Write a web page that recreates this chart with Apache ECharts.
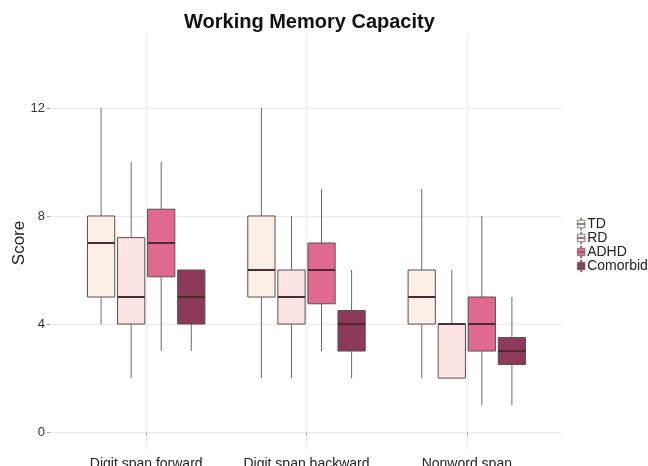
<!DOCTYPE html>
<html>
<head>
<meta charset="utf-8">
<script src="https://cdn.jsdelivr.net/npm/echarts@6/dist/echarts.min.js"></script>
<style>
  html, body { margin: 0; padding: 0; background: #fff; }
  #chart { width: 648px; height: 466px; }
</style>
</head>
<body>
<div id="chart"></div>
<script>
// categories on the x axis
let categories = ["Digit span forward", "Digit span backward", "Nonword span"];
let groups = ["TD", "RD", "ADHD", "Comorbid"];
let yTicks = [0, 4, 8, 12];

// each row: [min, Q1, median, Q3, max] per category
let tdBoxes = [[4, 5, 7, 8, 12], [2, 5, 6, 8, 12], [2, 4, 5, 6, 9]];
let rdBoxes = [[2, 4, 5, 7.2, 10], [2, 4, 5, 6, 8], [2, 2, 4, 4, 6]];
let adhdBoxes = [[3, 5.75, 7, 8.25, 10], [3, 4.75, 6, 7, 9], [1, 3, 4, 5, 8]];
let comorbidBoxes = [[3, 4, 5, 6, 6], [2, 3, 4, 4.5, 6], [1, 2.5, 3, 3.5, 5]];

let allBoxes = [tdBoxes, rdBoxes, adhdBoxes, comorbidBoxes];
let fills = ["#fcefe6", "#fde3e1", "#e0698f", "#8d3a5a"];

let FONT = "Liberation Sans, Arial, Helvetica, sans-serif";
let groupStep = 0.1875; //组间距(以类别为单位)
let boxW = 0.17; //箱宽
//图例里的小箱线图标
let legendIcon = "path://M4.4,0 L5.6,0 L5.6,3 L10,3 L10,13 L5.6,13 L5.6,16 L4.4,16 L4.4,13 L0,13 L0,3 L4.4,3 Z M0,7.4 L10,7.4 L10,8.6 L0,8.6 Z";

function renderBox(params, api) {
    let g = params.seriesIndex;
    let c = api.value(0);
    let unit = api.size([1, 0])[0];
    let x = api.coord([c, 0])[0] + (g - 1.5) * groupStep * unit;
    let hw = boxW * unit / 2;
    let yMin = api.coord([c, api.value(1)])[1];
    let yQ1 = api.coord([c, api.value(2)])[1];
    let yMed = api.coord([c, api.value(3)])[1];
    let yQ3 = api.coord([c, api.value(4)])[1];
    let yMax = api.coord([c, api.value(5)])[1];
    return {
        type: "group",
        children: [
            { type: "line", shape: { x1: x, y1: yMax, x2: x, y2: yQ3 }, style: { stroke: "#6b6b6b", lineWidth: 1 } },
            { type: "line", shape: { x1: x, y1: yQ1, x2: x, y2: yMin }, style: { stroke: "#6b6b6b", lineWidth: 1 } },
            { type: "rect", shape: { x: x - hw, y: yQ3, width: hw * 2, height: yQ1 - yQ3 }, style: { fill: fills[g], stroke: "#5a5050", lineWidth: 1 } },
            { type: "line", shape: { x1: x - hw, y1: yMed, x2: x + hw, y2: yMed }, style: { stroke: "#4a2c30", lineWidth: 2 } }
        ]
    };
}

let series = [];
for (let g = 0; g < groups.length; g++) {
    let data = [];
    for (let i = 0; i < categories.length; i++) {
        data.push([i + 1].concat(allBoxes[g][i]));
    }
    series.push({
        name: groups[g],
        type: "custom",
        renderItem: renderBox,
        itemStyle: { color: fills[g] },
        encode: { x: 0, y: [1, 2, 3, 4, 5] },
        data: data
    });
}

let myChart = echarts.init(document.getElementById("chart"));
let option = {
    backgroundColor: "#ffffff",
    animation: false,
    title: {
        text: "Working Memory Capacity",
        left: 179,
        top: 7,
        textStyle: { fontFamily: FONT, fontSize: 20, fontWeight: "bold", color: "#111" }
    },
    legend: {
        data: groups,
        orient: "vertical",
        left: 577,
        top: 217,
        padding: 0,
        itemGap: 0,
        itemWidth: 10,
        itemHeight: 12,
        icon: legendIcon,
        itemStyle: { borderColor: "#666", borderWidth: 0.8 },
        textStyle: { fontFamily: FONT, fontSize: 14, lineHeight: 13, color: "#222", padding: [0, 0, 0, -4] }
    },
    grid: { left: 50, right: 85, top: 35, bottom: 15, outerBoundsMode: "none" },
    xAxis: {
        type: "value",
        min: 0.4,
        max: 3.6,
        axisLine: { show: false },
        axisTick: { show: true, length: 4, customValues: [1, 2, 3], lineStyle: { color: "#aaa" } },
        axisLabel: {
            customValues: [1, 2, 3],
            formatter: function (v) { return categories[Math.round(v) - 1]; },
            fontFamily: FONT, fontSize: 14, color: "#222", margin: 6
        },
        splitLine: { show: true, lineStyle: { color: "#ebebeb", width: 1 } }
    },
    yAxis: {
        type: "value",
        min: -0.7,
        max: 14.7,
        name: "Score",
        nameLocation: "middle",
        nameGap: 22,
        nameMoveOverlap: false,
        nameTextStyle: { fontFamily: FONT, fontSize: 17, color: "#222" },
        axisLine: { show: false },
        axisTick: { show: true, length: 3, customValues: yTicks, lineStyle: { color: "#aaa" } },
        axisLabel: { customValues: yTicks, fontFamily: FONT, fontSize: 13, color: "#333", margin: 5 },
        splitLine: { show: true, lineStyle: { color: "#ebebeb", width: 1 } }
    },
    series: series
};
myChart.setOption(option);
</script>
</body>
</html>
